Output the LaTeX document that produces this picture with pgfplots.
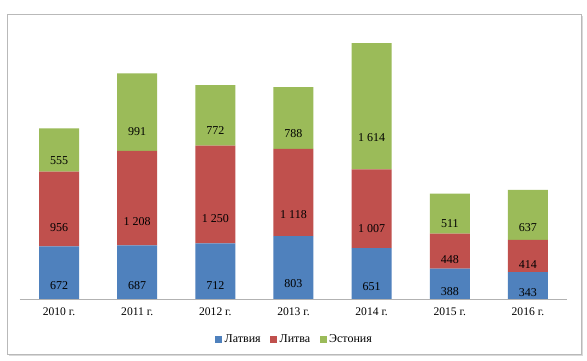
\documentclass[border=0pt]{standalone}
\usepackage{pgfplots}
\pgfplotsset{compat=1.18}
\usepackage{pgfplotstable}
\usepackage{fontspec}
\setmainfont{Liberation Serif}
\definecolor{lat}{HTML}{4F81BD}
\definecolor{lit}{HTML}{C0504D}
\definecolor{est}{HTML}{9BBB59}
\pgfplotstableread{
x y lab
0 672 672
1 687 687
2 712 712
3 803 803
4 651 651
5 388 388
6 343 343
}\latvia
\pgfplotstableread{
x y lab
0 956 956
1 1208 1~208
2 1250 1~250
3 1118 1~118
4 1007 1~007
5 448 448
6 414 414
}\lithuania
\pgfplotstableread{
x y lab
0 555 555
1 991 991
2 772 772
3 788 788
4 1614 1~614
5 511 511
6 637 637
}\estonia
\begin{document}
\begin{tikzpicture}[x=0.75pt,y=0.75pt]
\path[use as bounding box] (0,0) rectangle (587,361);
\fill[gray!30] (9,5) rectangle (583,345);
\draw[gray!55, fill=white, line width=0.6pt] (7,7) rectangle (581,347);
\begin{axis}[
  at={(15pt,46.5pt)}, anchor=south west,
  scale only axis, width=410.25pt, height=205.3pt,
  ybar stacked, bar width=30pt,
  xmin=-0.5, xmax=6.5, ymin=0, ymax=3500,
  axis x line=bottom, axis y line=left,
  y axis line style={draw=none},
  x axis line style={-, draw=gray!60, line width=0.6pt},
  ytick=\empty,
  xtick=data,
  xticklabels={2010 г.,2011 г.,2012 г.,2013 г.,2014 г.,2015 г.,2016 г.},
  major tick length=0pt,
  xtick style={draw=none},
  xticklabel style={font=\fontsize{8.7}{10}\selectfont, yshift=-3pt},
  point meta=explicit symbolic,
  nodes near coords,
  visualization depends on={\thisrow{y} \as \rawy},
  every node near coord/.append style={font=\fontsize{9}{10}\selectfont, anchor=center, yshift={-\rawy*0.0146645pt}, text=black},
  legend columns=-1,
  legend style={at={(rel axis cs:0.5,0)}, anchor=center, xshift=1pt, yshift=-30.5pt, draw=none, font=\fontsize{9}{10}\selectfont,
    /tikz/every even column/.append style={column sep=5pt}, inner sep=0pt},
  legend image code/.code={\fill[#1] (0pt,-2.6pt) rectangle (5.2pt,2.6pt);},
]
\addplot[fill=lat, draw=none] table[x=x, y=y, meta=lab] {\latvia};
\addplot[fill=lit, draw=none] table[x=x, y=y, meta=lab] {\lithuania};
\addplot[fill=est, draw=none] table[x=x, y=y, meta=lab] {\estonia};
\legend{Латвия,Литва,Эстония}
\end{axis}
\end{tikzpicture}
\end{document}
